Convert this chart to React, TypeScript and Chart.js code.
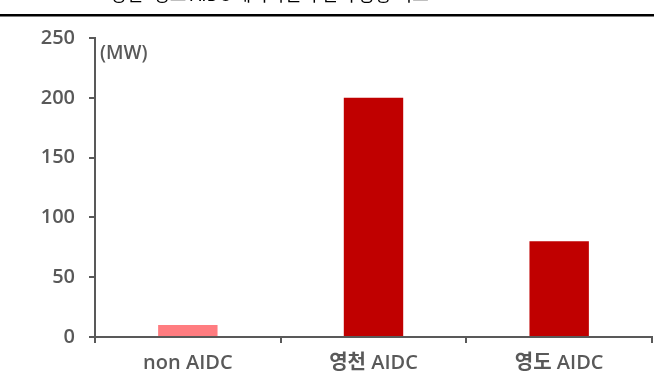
import React, { useEffect, useRef } from "react";
import { Chart, registerables } from "chart.js";

Chart.register(...registerables);

// Capacity by data-centre type, in MW
const categories: string[] = ["non AIDC", "영천 AIDC", "영도 AIDC"];
const capacityMW: number[] = [10, 200, 80];
const barColors: string[] = ["#FF7C80", "#C00000", "#C00000"];
const yTicks: number[] = [0, 50, 100, 150, 200, 250];
const unitLabel = "(MW)";
const titleText = "영천·영도 AIDC 데이터센터 전력 용량 비교";

const FONT = "'Open Sans', 'Noto Sans CJK KR', sans-serif";
const TITLE_FONT = "'Noto Sans CJK KR', sans-serif";
const AXIS = "#595959";

// Header text (running off the top edge), the rule under it and the unit label
const decorations = {
  id: "decorations",
  afterDraw(chart: Chart) {
    const { ctx, chartArea, width } = chart;
    ctx.save();
    ctx.fillStyle = "#000";
    ctx.font = `18px ${TITLE_FONT}`;
    ctx.textAlign = "left";
    ctx.textBaseline = "bottom";
    ctx.fillText(titleText, 110, 3);
    ctx.fillRect(0, 14, width, 2.5);
    ctx.fillStyle = AXIS;
    ctx.font = `600 19px ${FONT}`;
    ctx.textBaseline = "middle";
    ctx.fillText(unitLabel, chartArea.left + 5, chartArea.top + 16);
    ctx.restore();
  },
};

export default function App() {
  const ref = useRef<HTMLCanvasElement | null>(null);

  useEffect(() => {
    if (!ref.current) return;
    const chart = new Chart(ref.current, {
      type: "bar",
      data: {
        labels: categories,
        datasets: [
          {
            data: capacityMW,
            backgroundColor: barColors,
            borderWidth: 0,
            categoryPercentage: 1,
            barPercentage: 0.32,
          },
        ],
      },
      options: {
        animation: false,
        responsive: false,
        maintainAspectRatio: false,
        layout: { padding: { top: 38, right: 2, left: 0, bottom: 0 } },
        plugins: {
          legend: { display: false },
          tooltip: { enabled: false },
          title: { display: false },
        },
        scales: {
          x: {
            offset: true,
            grid: {
              offset: true,
              drawOnChartArea: false,
              drawTicks: true,
              tickLength: 6,
              color: AXIS,
              lineWidth: 2,
            },
            border: { display: true, color: AXIS, width: 2 },
            ticks: {
              color: AXIS,
              font: { family: FONT, size: 20, weight: "600" },
              padding: 8,
              maxRotation: 0,
            },
            afterFit(scale: any) {
              scale.height = 37;
            },
          },
          y: {
            min: 0,
            max: 250,
            afterBuildTicks(scale: any) {
              scale.ticks = yTicks.map((v) => ({ value: v }));
            },
            grid: {
              drawOnChartArea: false,
              drawTicks: true,
              tickLength: 6,
              color: AXIS,
              lineWidth: 2,
            },
            border: { display: true, color: AXIS, width: 2 },
            ticks: {
              color: AXIS,
              font: { family: FONT, size: 20, weight: "600" },
              padding: 14,
            },
            afterFit(scale: any) {
              scale.width = 95;
            },
          },
        },
      },
      plugins: [decorations],
    });
    return () => chart.destroy();
  }, []);

  return (
    <div style={{ position: "fixed", left: 0, top: 0, width: 654, height: 374, background: "#fff" }}>
      <canvas ref={ref} width={654} height={374} style={{ display: "block" }} />
    </div>
  );
}
